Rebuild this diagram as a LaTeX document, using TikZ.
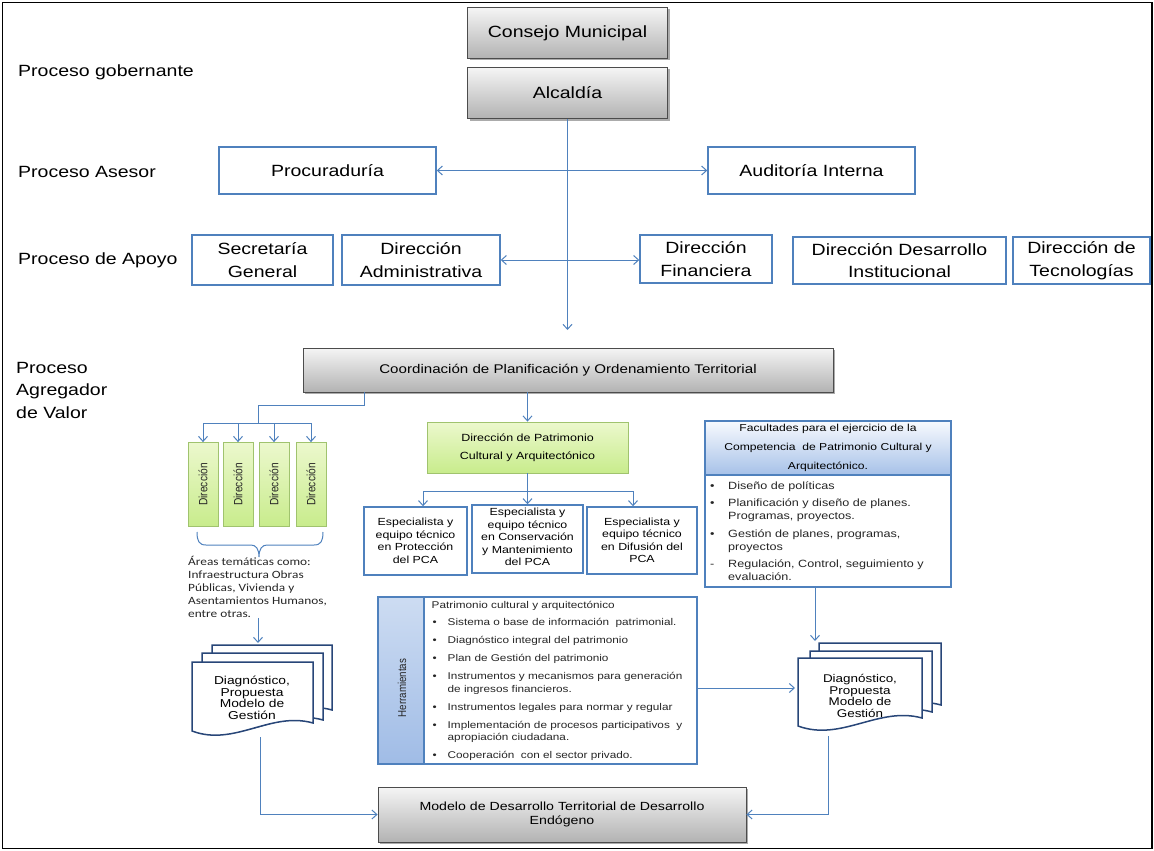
\documentclass[tikz,border=0pt]{standalone}
\usepackage{fontspec}
\usepackage{graphicx}
\setmainfont{Liberation Sans}[FakeStretch=1.2]
\newfontfamily\rotfont{Liberation Sans}[FakeStretch=0.85]
\newfontfamily\calfont{Carlito}[FakeStretch=1.2]
\usetikzlibrary{arrows.meta,shadows}
\definecolor{myblue}{RGB}{79,129,189}
\definecolor{docblue}{RGB}{40,70,120}
\definecolor{greenA}{RGB}{236,248,205}
\definecolor{greenB}{RGB}{200,236,140}
\definecolor{greenE}{RGB}{160,195,110}
\definecolor{lblueA}{RGB}{248,250,254}
\definecolor{lblueB}{RGB}{166,193,232}
\definecolor{tabA}{RGB}{205,220,242}
\definecolor{tabB}{RGB}{160,188,230}
\newcommand\myfs[2]{\fontsize{#1}{#2}\selectfont}
\newcommand\docpage[4]{\path[docline] (#1,#2) -- ({#1+#3},#2) -- ({#1+#3},{#2+#4}) .. controls ({#1+0.65*#3},{#2+#4-12}) and ({#1+0.35*#3},{#2+#4+24}) .. (#1,{#2+#4+8}) -- cycle;}
\tikzset{
  graybox/.style={draw=black!70, line width=0.8pt, top color=black!4, bottom color=black!30,
    drop shadow={shadow xshift=2pt, shadow yshift=-2pt, fill=black!55, opacity=0.6},
    inner sep=0pt, align=center},
  bluebox/.style={draw=myblue, line width=1.4pt, fill=white, inner sep=0pt, align=center},
  greenbox/.style={draw=greenE, line width=0.8pt, top color=greenA, bottom color=greenB, inner sep=0pt, align=center},
  line/.style={draw=myblue, line width=1pt},
  arr/.style={line, -{Straight Barb[length=5pt,width=9pt]}},
  dbl/.style={line, {Straight Barb[length=5pt,width=9pt]}-{Straight Barb[length=5pt,width=9pt]}},
  docline/.style={draw=docblue, line width=1.5pt, fill=white, line join=miter},
  lbl/.style={anchor=west, inner sep=0pt, font=\myfs{16.25}{22.5}, align=left},
  big/.style={font=\myfs{16.25}{22.5}},
}
\begin{document}
\begin{tikzpicture}[x=1pt,y=-1pt]
\useasboundingbox (0,0) rectangle (1154,851);
\draw[line width=1.5pt] (2.5,2.5) rectangle (1152,848.5);

% left labels
\node[lbl] (lg) at (18,72) {Proceso gobernante};
\node[lbl] (la) at (18,172) {Proceso Asesor};
\node[lbl] (lp) at (18,260) {Proceso de Apoyo};
\node[lbl] (lv) at (16,390) {Proceso\\Agregador\\de Valor};

% governing
\node[graybox, minimum width=200pt, minimum height=51pt, big] (consejo) at (567.5,33) {Consejo Municipal};
\node[graybox, minimum width=200pt, minimum height=51pt, big] (alcaldia) at (567.5,93) {Alcaldía};

% asesor
\node[bluebox, minimum width=217pt, minimum height=47pt, big] (proc) at (327.5,170.5) {Procuraduría};
\node[bluebox, minimum width=207pt, minimum height=47pt, big] (aud) at (811.5,170.5) {Auditoría Interna};

% apoyo
\node[bluebox, minimum width=141pt, minimum height=50pt, big] (sec) at (262.5,260) {Secretaría\\General};
\node[bluebox, minimum width=158pt, minimum height=50pt, big] (dadm) at (421,260) {Dirección\\Administrativa};
\node[bluebox, minimum width=132pt, minimum height=48pt, big] (dfin) at (706,259) {Dirección\\Financiera};
\node[bluebox, minimum width=213pt, minimum height=47pt, big] (ddes) at (899.5,260.5) {Dirección Desarrollo\\Institucional};
\node[bluebox, minimum width=137pt, minimum height=47pt, big] (dtec) at (1081.5,260.5) {Dirección de\\Tecnologías};

% coordinacion
\node[graybox, minimum width=530pt, minimum height=44pt, font=\myfs{12.6}{14}] (coord) at (568,370) {Coordinación de Planificación y Ordenamiento Territorial};

% green direcciones
\foreach \n/\x in {d1/203,d2/238,d3/274,d4/311}
  \node[greenbox, minimum width=30pt, minimum height=84pt] (\n) at (\x,484.5) {\rotatebox{90}{\rotfont\myfs{12}{12}\color{black!85}Dirección}};

% brace
\draw[line] (197,532) .. controls (197,541) and (199,545) .. (206,545) -- (251,545) .. controls (256,545) and (259,549) .. (259,557) .. controls (259,549) and (262,545) .. (267,545) -- (314,545) .. controls (321,545) and (323,541) .. (323,532);

\node[anchor=north west, inner sep=0pt, align=left, font=\calfont\myfs{11.1}{13}, text=black!85] (areas) at (188,556) {Áreas temáticas como:\\Infraestructura Obras\\Públicas, Vivienda y\\Asentamientos Humanos,\\entre otras.};

% patrimonio
\node[greenbox, minimum width=201pt, minimum height=51pt, font=\myfs{10.4}{18}] (dpat) at (527.5,447.5) {Dirección de Patrimonio\\Cultural y Arquitectónico};

\node[bluebox, minimum width=103pt, minimum height=68pt, font=\myfs{10.3}{12.5}] (e1) at (415.5,541) {Especialista y\\equipo técnico\\en Protección\\del PCA};
\node[bluebox, minimum width=111pt, minimum height=68pt, font=\myfs{10.3}{12.5}] (e2) at (527.5,539) {\\[-9pt]Especialista y\\equipo técnico\\en Conservación\\y Mantenimiento\\del PCA};
\node[bluebox, minimum width=110pt, minimum height=67pt, font=\myfs{10.3}{12.5}] (e3) at (642,540.5) {Especialista y\\equipo técnico\\en Difusión del\\PCA};

% facultades
\node[draw=myblue, line width=1.4pt, top color=lblueA, bottom color=lblueB, minimum width=246pt, minimum height=54pt, inner sep=0pt, align=center, font=\myfs{10.1}{19}] (fach) at (828,448) {Facultades para el ejercicio de la\\Competencia\ \ de Patrimonio Cultural y\\Arquitectónico.};
\node[draw=myblue, line width=1.4pt, fill=white, minimum width=246pt, minimum height=112pt, inner sep=0pt] (facb) at (828,531) {};
\node[anchor=north west, inner sep=0pt, align=left, font=\myfs{10.5}{13}, text=black!85] (facl) at (709,481.5) {%
\makebox[19pt][l]{\hspace{1pt}•}Diseño de políticas\\[4.5pt]
\makebox[19pt][l]{\hspace{1pt}•}Planificación y diseño de planes.\\
\hspace*{19pt}Programas, proyectos.\\[4.5pt]
\makebox[19pt][l]{\hspace{1pt}•}Gestión de planes, programas,\\
\hspace*{19pt}proyectos\\[4.5pt]
\makebox[19pt][l]{\hspace{1pt}-}Regulación, Control, seguimiento y\\
\hspace*{19pt}evaluación.};

% herramientas
\node[draw=myblue, line width=1.2pt, top color=tabA, bottom color=tabB, minimum width=46pt, minimum height=167pt, inner sep=0pt] (tab) at (401,680.5) {};
\node[rotate=90, inner sep=0pt, font=\rotfont\myfs{11.5}{12}, text=black!85] (tabl) at (402,688) {Herramientas};
\node[draw=myblue, line width=1.4pt, fill=white, minimum width=273pt, minimum height=167pt, inner sep=0pt] (herr) at (560.5,680.5) {};
\node[anchor=north west, inner sep=0pt, align=left, font=\myfs{9.8}{12.5}, text=black!85] (herrl) at (431.5,601.5) {%
Patrimonio cultural y arquitectónico\\[4.5pt]
\makebox[16pt][l]{\hspace{1pt}•}Sistema o base de información\ \ patrimonial.\\[5.5pt]
\makebox[16pt][l]{\hspace{1pt}•}Diagnóstico integral del patrimonio\\[5.5pt]
\makebox[16pt][l]{\hspace{1pt}•}Plan de Gestión del patrimonio\\[5.5pt]
\makebox[16pt][l]{\hspace{1pt}•}Instrumentos y mecanismos para generación\\
\hspace*{16pt}de ingresos financieros.\\[5.5pt]
\makebox[16pt][l]{\hspace{1pt}•}Instrumentos legales para normar y regular\\[5.5pt]
\makebox[16pt][l]{\hspace{1pt}•}Implementación de procesos participativos\ \ y\\
\hspace*{16pt}apropiación ciudadana.\\[5.5pt]
\makebox[16pt][l]{\hspace{1pt}•}Cooperación\ \ con el sector privado.};

% documents
\docpage{212}{645}{120}{65}
\docpage{202}{653}{121}{67}
\docpage{192}{662}{121}{61}
\docpage{819}{643}{122}{62}
\docpage{810}{651}{122}{61}
\docpage{798}{658}{124}{60}
\node[align=center, inner sep=0pt, font=\myfs{11.5}{11.5}] (ldoct) at (252,698) {Diagnóstico,\\Propuesta\\Modelo de\\Gestión};
\node[align=center, inner sep=0pt, font=\myfs{11.2}{11.5}] (rdoct) at (860,696) {Diagnóstico,\\Propuesta\\Modelo de\\Gestión};

% modelo
\node[graybox, minimum width=368pt, minimum height=55pt, font=\myfs{11.8}{14}] (modelo) at (562,814.5) {Modelo de Desarrollo Territorial de Desarrollo\\Endógeno};

% connectors
\coordinate (cArr) at (567.5,330);
\draw[arr] (alcaldia.south) -- (cArr);
\draw[dbl] (proc.east) -- (aud.west);
\draw[dbl] (dadm.east) -- (dadm.east -| dfin.west);

\coordinate (brK) at (258,405);
\coordinate (brM) at (258,423);
\draw[line] ([xshift=62pt]coord.south west) |- (brK) -- (brM);
\draw[line] (d1.north |- brM) -- (d4.north |- brM);
\foreach \n in {d1,d2,d3,d4} \draw[arr] (\n.north |- brM) -- (\n.north);

\draw[arr] (dpat.north |- coord.south) -- (dpat.north);
\coordinate (eb) at (527.5,491);
\coordinate (ebL) at (423,491);
\coordinate (ebR) at (633,491);
\draw[line] (dpat.south) -- (eb);
\draw[line] (ebL) -- (ebR);
\draw[arr] (ebL) -- (ebL |- e1.north);
\draw[arr] (eb) -- (e2.north);
\draw[arr] (ebR) -- (ebR |- e3.north);

\coordinate (rdocT) at (815,641);
\draw[arr] (rdocT |- facb.south) -- (rdocT);
\coordinate (rdocL) at (795,688);
\draw[arr] (rdocL -| herr.east) -- (rdocL);
\coordinate (ldocT) at (258,643);
\draw[arr] (ldocT |- areas.south) -- (ldocT);
\coordinate (ldocB) at (260,737);
\draw[arr] (ldocB) |- (modelo.west);
\coordinate (rdocB) at (828,736);
\draw[arr] (rdocB) |- (modelo.east);
\end{tikzpicture}
\end{document}
